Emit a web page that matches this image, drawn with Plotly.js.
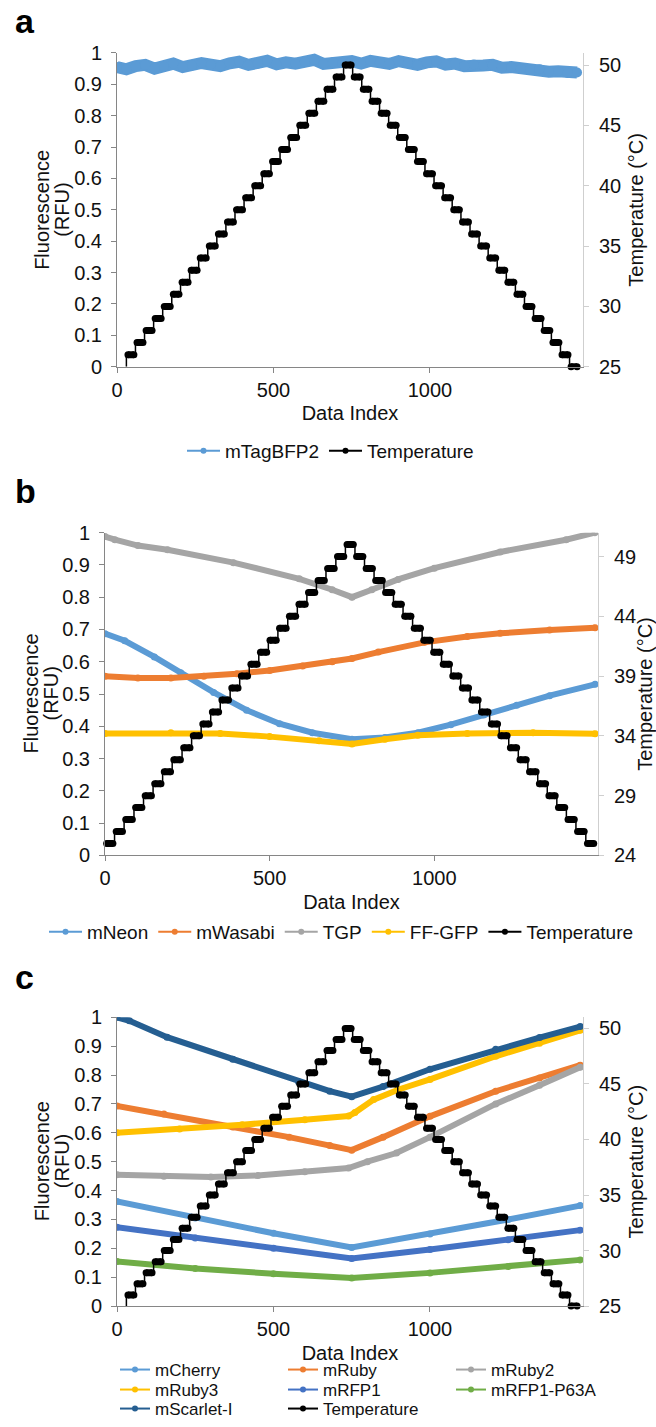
<!DOCTYPE html>
<html><head><meta charset="utf-8">
<script src="https://cdn.plot.ly/plotly-3.0.1.min.js"></script>
<style>html,body{margin:0;padding:0;background:#fff;}#chart{width:656px;height:1427px;}</style>
</head><body><div id="chart"></div>
<script>
// ---------- Panel a ----------
const idxA = [0,30,60,90,120,150,180,210,240,270,300,330,360,390,420,450,480,510,540,570,600,630,660,690,720,750,780,810,840,870,900,930,960,990,1020,1050,1080,1110,1140,1170,1200,1230,1260,1290,1320,1350,1380,1410,1440,1470];
const mTagBFP2 = [0.955,0.948,0.958,0.962,0.950,0.957,0.966,0.955,0.960,0.968,0.963,0.958,0.967,0.972,0.962,0.966,0.975,0.964,0.970,0.966,0.972,0.978,0.965,0.970,0.968,0.974,0.966,0.975,0.970,0.965,0.974,0.968,0.962,0.970,0.973,0.963,0.966,0.958,0.963,0.960,0.962,0.953,0.955,0.950,0.946,0.948,0.940,0.942,0.936,0.938];
// temperature steps shared by panels a and c
const startTempAC = 25;
const stepStartAC = [30,59,88,117,146,175,203,232,261,290,319,348,377,406,435,464,492,521,550,579,608,637,666,695,724,753,782,810,839,868,897,926,955,984,1013,1042,1071,1099,1128,1157,1186,1215,1244,1273,1302,1331,1360,1388,1417,1446];
const stepEndAC = 1475;
const stepTempAC = [26,27,28,29,30,31,32,33,34,35,36,37,38,39,40,41,42,43,44,45,46,47,48,49,50,49,48,47,46,45,44,43,42,41,40,39,38,37,36,35,34,33,32,31,30,29,28,27,26,25];

// ---------- Panel b ----------
const idxTGP = [0,30,100,190,390,590,690,750,810,890,1000,1200,1400,1488];
const TGP = [0.988,0.978,0.960,0.947,0.907,0.857,0.823,0.800,0.823,0.855,0.890,0.940,0.978,1.000];
const idxNeon = [0,60,150,230,330,430,530,630,750,850,950,1050,1150,1250,1350,1488];
const mNeon = [0.687,0.665,0.615,0.566,0.505,0.450,0.408,0.380,0.360,0.365,0.380,0.405,0.435,0.465,0.495,0.530];
const idxWasabi = [0,100,200,300,400,500,600,690,750,830,970,1100,1200,1350,1488];
const mWasabi = [0.555,0.550,0.550,0.555,0.563,0.573,0.587,0.600,0.610,0.630,0.660,0.678,0.688,0.698,0.705];
const idxFF = [0,200,350,500,650,750,850,950,1100,1300,1488];
const FFGFP = [0.378,0.380,0.378,0.368,0.355,0.345,0.360,0.372,0.378,0.380,0.377];
const stepStartB = [0,29,58,88,117,146,175,204,234,263,292,321,350,380,409,438,467,496,525,555,584,613,642,671,701,730,759,788,817,847,876,905,934,963,993,1022,1051,1080,1109,1138,1168,1197,1226,1255,1284,1314,1343,1372,1401,1430,1460];
const stepEndB = 1489;
const stepTempB = [25,26,27,28,29,30,31,32,33,34,35,36,37,38,39,40,41,42,43,44,45,46,47,48,49,50,49,48,47,46,45,44,43,42,41,40,39,38,37,36,35,34,33,32,31,30,29,28,27,26,25];

// ---------- Panel c ----------
const idxCherry = [0,250,500,750,1000,1250,1480];
const mCherry = [0.362,0.305,0.252,0.203,0.250,0.300,0.348];
const idxRuby = [0,150,370,550,680,750,850,1000,1210,1350,1480];
const mRuby = [0.693,0.665,0.620,0.585,0.556,0.540,0.585,0.657,0.744,0.790,0.834];
const idxRuby2 = [0,150,300,450,600,740,800,893,1000,1210,1350,1480];
const mRuby2 = [0.455,0.450,0.447,0.452,0.465,0.478,0.500,0.530,0.585,0.700,0.765,0.827];
const idxRuby3 = [0,200,400,600,740,760,820,900,1000,1210,1350,1480];
const mRuby3 = [0.600,0.613,0.628,0.645,0.658,0.670,0.715,0.750,0.785,0.865,0.910,0.955];
const idxRFP = [0,250,500,750,1000,1250,1480];
const mRFP1 = [0.273,0.236,0.200,0.165,0.196,0.230,0.263];
const mRFP1P63A = [0.154,0.130,0.112,0.097,0.115,0.137,0.160];
const idxScarlet = [0,40,160,370,580,680,750,850,1000,1210,1350,1480];
const mScarletI = [1.000,0.988,0.931,0.855,0.777,0.744,0.725,0.760,0.820,0.889,0.930,0.968];

// ---------- text ----------
const panelLetters = ['a','b','c'];
const yTitleLines = ['Fluorescence', '(RFU)'];

// ---------- colours ----------
const C = {blue:'#5B9BD5', orange:'#ED7D31', gray:'#A5A5A5', yellow:'#FFC000', mid:'#4472C4', green:'#70AD47', dark:'#255E91', black:'#000000'};

const traces = [];
function fluo(x, y, color, xa, ya, w, ms) {
  traces.push({x:x, y:y, type:'scatter', mode:'lines+markers', line:{color:color, width:w}, marker:{color:color, size:ms},
    showlegend:false, hoverinfo:'skip', xaxis:xa, yaxis:ya});
}
function temp(starts, end, temps, xa, ya, startTemp) {
  const sx = [], sy = [], px = [], py = [];
  if (startTemp !== undefined) { sx.push(starts[0]); sy.push(startTemp); }
  const pad = 5;
  for (let i = 0; i < starts.length; i++) {
    const s = starts[i], e = (i + 1 < starts.length) ? starts[i + 1] : end;
    sx.push(s, e); sy.push(temps[i], temps[i]);
    px.push(s + pad, e - pad, null); py.push(temps[i], temps[i], null);
  }
  traces.push({x:sx, y:sy, type:'scatter', mode:'lines', line:{color:'#000', width:1.5}, showlegend:false, hoverinfo:'skip', xaxis:xa, yaxis:ya, cliponaxis:false});
  traces.push({x:px, y:py, type:'scatter', mode:'lines+markers', line:{color:'#000', width:7}, marker:{color:'#000', size:7},
    showlegend:false, hoverinfo:'skip', xaxis:xa, yaxis:ya, connectgaps:false, cliponaxis:false});
}
function leg(name, color, lg, xa, ya) {
  traces.push({x:[null], y:[null], type:'scatter', mode:'lines+markers', name:name, line:{color:color, width:2}, marker:{color:color, size:6},
    showlegend:true, legend:lg, xaxis:xa, yaxis:ya, hoverinfo:'skip'});
}

// panel a
fluo(idxA, mTagBFP2, C.blue, 'x', 'y', 12, 10);
temp(stepStartAC, stepEndAC, stepTempAC, 'x', 'y2', startTempAC);
leg('mTagBFP2', C.blue, 'legend', 'x', 'y');
leg('Temperature', C.black, 'legend', 'x', 'y');

// panel b
fluo(idxNeon, mNeon, C.blue, 'x2', 'y3', 6, 7);
fluo(idxWasabi, mWasabi, C.orange, 'x2', 'y3', 6, 7);
fluo(idxTGP, TGP, C.gray, 'x2', 'y3', 6, 7);
fluo(idxFF, FFGFP, C.yellow, 'x2', 'y3', 6, 7);
temp(stepStartB, stepEndB, stepTempB, 'x2', 'y4');
leg('mNeon', C.blue, 'legend2', 'x2', 'y3');
leg('mWasabi', C.orange, 'legend2', 'x2', 'y3');
leg('TGP', C.gray, 'legend2', 'x2', 'y3');
leg('FF-GFP', C.yellow, 'legend2', 'x2', 'y3');
leg('Temperature', C.black, 'legend2', 'x2', 'y3');

// panel c
fluo(idxCherry, mCherry, C.blue, 'x3', 'y5', 6, 7);
fluo(idxRuby, mRuby, C.orange, 'x3', 'y5', 6, 7);
fluo(idxRuby2, mRuby2, C.gray, 'x3', 'y5', 6, 7);
fluo(idxRuby3, mRuby3, C.yellow, 'x3', 'y5', 6, 7);
fluo(idxRFP, mRFP1, C.mid, 'x3', 'y5', 6, 7);
fluo(idxRFP, mRFP1P63A, C.green, 'x3', 'y5', 6, 7);
fluo(idxScarlet, mScarletI, C.dark, 'x3', 'y5', 6, 7);
temp(stepStartAC, stepEndAC, stepTempAC, 'x3', 'y6', startTempAC);
leg('mCherry', C.blue, 'legend3', 'x3', 'y5');
leg('mRuby', C.orange, 'legend3', 'x3', 'y5');
leg('mRuby2', C.gray, 'legend3', 'x3', 'y5');
leg('mRuby3', C.yellow, 'legend4', 'x3', 'y5');
leg('mRFP1', C.mid, 'legend4', 'x3', 'y5');
leg('mRFP1-P63A', C.green, 'legend4', 'x3', 'y5');
leg('mScarlet-I', C.dark, 'legend5', 'x3', 'y5');
leg('Temperature', C.black, 'legend5', 'x3', 'y5');

const W = 656, H = 1427;
const FONT = 'Liberation Sans, Arial, sans-serif';
const fx = p => p / W, fy = p => 1 - p / H;
const axisCol = '#868686', rightCol = '#cfcfcf', txt = '#111';
const TF = 20, LF = 19;

function xax(dom, yname, range) {
  return {domain:dom, anchor:yname, range:range, tick0:0, dtick:500, showline:true, linecolor:axisCol, linewidth:1,
    ticks:'outside', ticklen:5, tickcolor:axisCol, showgrid:false, zeroline:false,
    tickfont:{size:TF, color:txt}, title:{text:'Data Index', font:{size:TF, color:txt}, standoff:6}};
}
function yl(dom, xname) {
  return {domain:dom, anchor:xname, range:[0,1], tick0:0, dtick:0.1, showline:true, linecolor:axisCol, linewidth:1,
    ticks:'outside', ticklen:5, tickcolor:axisCol, showgrid:false, zeroline:false, ticklabelstandoff:5,
    tickfont:{size:TF, color:txt}};
}
function yr(over, xname, range, t0) {
  return {overlaying:over, anchor:xname, side:'right', range:range, tick0:t0, dtick:5, showline:true, linecolor:rightCol, linewidth:1,
    ticks:'outside', ticklen:5, tickcolor:rightCol, showgrid:false, zeroline:false, ticklabelstandoff:6,
    tickfont:{size:TF, color:txt}, title:{text:'Temperature (°C)', font:{size:TF, color:txt}, standoff:8}};
}
function lgd(x, y, xanchor, extra) {
  return Object.assign({orientation:'h', x:x, y:y, xanchor:xanchor, yanchor:'middle', bgcolor:'rgba(0,0,0,0)',
    font:{size:LF, color:txt, family:FONT}, itemclick:false, itemdoubleclick:false}, extra || {});
}

const annotations = [];
const letterTop = [0, 470, 957];
panelLetters.forEach((L, i) => annotations.push({text:'<b>' + L + '</b>', x:fx(13), y:fy(letterTop[i]), xref:'paper', yref:'paper',
  xanchor:'left', yanchor:'top', showarrow:false, font:{size:34, color:'#000', family:FONT}}));
// left axis titles (two lines, placed like the reference)
const titleCenters = [[42, 62, 210], [31, 51, 694], [42, 62, 1162]];
titleCenters.forEach(tc => {
  annotations.push({text:yTitleLines[0], x:fx(tc[0]), y:fy(tc[2]), xref:'paper', yref:'paper', xanchor:'center', yanchor:'middle',
    textangle:-90, showarrow:false, font:{size:TF, color:txt, family:FONT}});
  annotations.push({text:yTitleLines[1], x:fx(tc[1]), y:fy(tc[2]), xref:'paper', yref:'paper', xanchor:'center', yanchor:'middle',
    textangle:-90, showarrow:false, font:{size:TF, color:txt, family:FONT}});
});

const layout = {
  width:W, height:H, margin:{l:0, r:0, t:0, b:0}, paper_bgcolor:'#fff', plot_bgcolor:'rgba(0,0,0,0)',
  font:{family:FONT, size:TF, color:txt},
  xaxis: xax([fx(117), fx(583)], 'y', [0,1489]),
  yaxis: yl([fy(367), fy(53)], 'x'),
  yaxis2: yr('y', 'x', [25,51], 25),
  xaxis2: xax([fx(105), fx(598)], 'y3', [0,1497]),
  yaxis3: yl([fy(856), fy(533)], 'x2'),
  yaxis4: yr('y3', 'x2', [24,51], 24),
  xaxis3: xax([fx(117), fx(583)], 'y5', [0,1489]),
  yaxis5: yl([fy(1307), fy(1018)], 'x3'),
  yaxis6: yr('y5', 'x3', [25,51], 25),
  legend: lgd(fx(182), fy(451), 'left', {itemwidth:33}),
  legend2: lgd(fx(44), fy(932), 'left', {itemwidth:33}),
  legend3: lgd(fx(115), fy(1370), 'left', {entrywidth:123, entrywidthmode:'pixels', font:{size:17, color:txt, family:FONT}}),
  legend4: lgd(fx(115), fy(1390), 'left', {entrywidth:123, entrywidthmode:'pixels', font:{size:17, color:txt, family:FONT}}),
  legend5: lgd(fx(115), fy(1410), 'left', {entrywidth:123, entrywidthmode:'pixels', font:{size:17, color:txt, family:FONT}}),
  annotations: annotations
};

Plotly.newPlot('chart', traces, layout, {staticPlot:true, displayModeBar:false});
</script>
</body></html>
